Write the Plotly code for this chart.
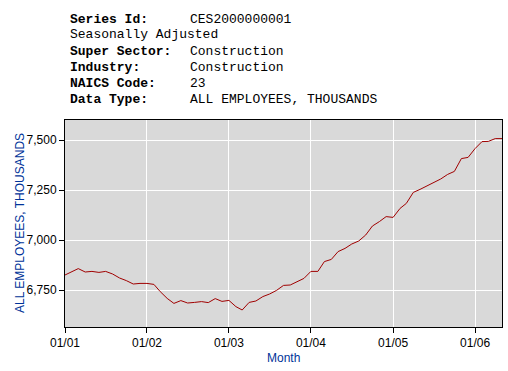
import plotly.graph_objects as go

months = [
    "2001-01", "2001-02", "2001-03", "2001-04", "2001-05", "2001-06", "2001-07", "2001-08", "2001-09", "2001-10", "2001-11", "2001-12",
    "2002-01", "2002-02", "2002-03", "2002-04", "2002-05", "2002-06", "2002-07", "2002-08", "2002-09", "2002-10", "2002-11", "2002-12",
    "2003-01", "2003-02", "2003-03", "2003-04", "2003-05", "2003-06", "2003-07", "2003-08", "2003-09", "2003-10", "2003-11", "2003-12",
    "2004-01", "2004-02", "2004-03", "2004-04", "2004-05", "2004-06", "2004-07", "2004-08", "2004-09", "2004-10", "2004-11", "2004-12",
    "2005-01", "2005-02", "2005-03", "2005-04", "2005-05", "2005-06", "2005-07", "2005-08", "2005-09", "2005-10", "2005-11", "2005-12",
    "2006-01", "2006-02", "2006-03", "2006-04", "2006-05",
]
employees = [
    6825, 6842, 6857, 6840, 6843, 6838, 6843, 6830, 6810, 6797, 6780, 6783,
    6783, 6778, 6742, 6708, 6683, 6697, 6685, 6688, 6692, 6687, 6707, 6693,
    6698, 6667, 6650, 6688, 6695, 6717, 6730, 6748, 6773, 6775, 6792, 6808,
    6843, 6843, 6892, 6903, 6942, 6958, 6980, 6995, 7025, 7070, 7092, 7117,
    7113, 7158, 7183, 7238, 7253, 7270, 7285, 7305, 7328, 7343, 7407, 7413,
    7457, 7492, 7493, 7507, 7507,
]
header_labels = ["Series Id:", "", "Super Sector:", "Industry:", "NAICS Code:", "Data Type:"]
header_values = ["CES2000000001", "Seasonally Adjusted", "Construction", "Construction", "23",
                 "ALL EMPLOYEES, THOUSANDS"]
y_ticks = [6750, 7000, 7250, 7500]
x_ticks = ["2001-01", "2002-01", "2003-01", "2004-01", "2005-01", "2006-01"]
x_ticklabels = ["01/01", "01/02", "01/03", "01/04", "01/05", "01/06"]

W, H = 508, 371
L, R, T, B = 65, 502, 120, 327
BLUE = "#003399"

fig = go.Figure()
fig.add_trace(go.Scatter(
    x=months, y=employees, mode="lines",
    line=dict(color="#a00000", width=1), hoverinfo="skip", showlegend=False,
))

def px(x):
    return (x - L) / (R - L)

def py(y):
    return (B - y) / (B - T)

annotations = []
line_y = [19, 35, 51, 67, 83, 99]
mono = dict(family="Liberation Mono, Courier New, monospace", size=13, color="black")
for lab, val, yy in zip(header_labels, header_values, line_y):
    if lab:
        annotations.append(dict(text="<b>" + lab + "</b>", x=px(68), y=py(yy), xref="paper", yref="paper",
                                xanchor="left", yanchor="middle", showarrow=False, font=mono))
        annotations.append(dict(text=val, x=px(188), y=py(yy), xref="paper", yref="paper",
                                xanchor="left", yanchor="middle", showarrow=False, font=mono))
    else:
        annotations.append(dict(text=val, x=px(68), y=py(yy), xref="paper", yref="paper",
                                xanchor="left", yanchor="middle", showarrow=False, font=mono))

annotations.append(dict(text="ALL EMPLOYEES, THOUSANDS", x=px(20), y=py(223), xref="paper", yref="paper",
                        xanchor="center", yanchor="middle", textangle=-90, showarrow=False,
                        font=dict(family="Liberation Sans, Arial, sans-serif", size=12, color=BLUE)))
annotations.append(dict(text="Month", x=px(283), y=py(358), xref="paper", yref="paper",
                        xanchor="center", yanchor="middle", showarrow=False,
                        font=dict(family="Liberation Sans, Arial, sans-serif", size=12, color=BLUE)))

fig.update_layout(
    width=W, height=H,
    margin=dict(l=L, r=W - R, t=T, b=H - B, pad=0),
    paper_bgcolor="white", plot_bgcolor="#d9d9d9",
    annotations=annotations,
    font=dict(family="Liberation Sans, Arial, sans-serif", size=12, color="black"),
)
fig.update_xaxes(
    range=[months[0], months[-1]],
    tickmode="array", tickvals=x_ticks, ticktext=x_ticklabels,
    showgrid=True, gridcolor="white", gridwidth=1,
    showline=True, linecolor="black", linewidth=1, mirror=True,
    ticks="outside", ticklen=5, tickcolor="black",
    tickfont=dict(size=12), zeroline=False,
)
fig.update_yaxes(
    range=[6565, 7600],
    tickmode="array", tickvals=y_ticks, ticktext=[f"{v:,}" for v in y_ticks],
    showgrid=True, gridcolor="white", gridwidth=1,
    showline=True, linecolor="black", linewidth=1, mirror=True,
    ticks="outside", ticklen=5, tickcolor="black",
    tickfont=dict(size=12), zeroline=False,
)

fig.write_html("out.html", config={"displayModeBar": False},
               post_script="document.body.style.margin='0';document.body.style.overflow='hidden';")
